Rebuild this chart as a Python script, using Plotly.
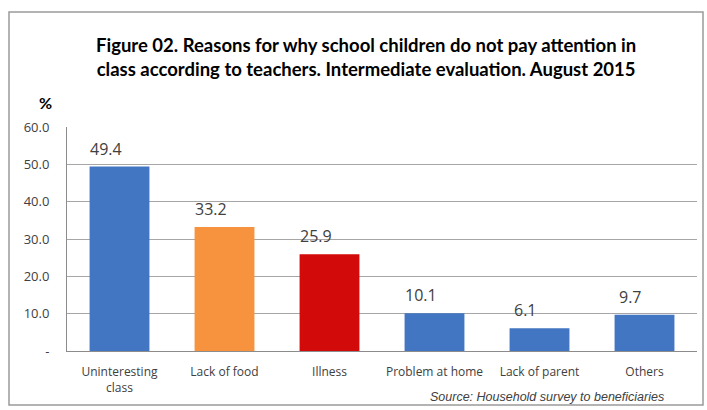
import plotly.graph_objects as go

# Survey results: share of teachers citing each reason (%)
categories = ["Uninteresting<br>class", "Lack of food", "Illness",
              "Problem at home", "Lack of parent", "Others"]
values = [49.4, 33.2, 25.9, 10.1, 6.1, 9.7]
bar_colors = ["#4275C2", "#F7923F", "#D20A0A", "#4275C2", "#4275C2", "#4275C2"]
y_tick_vals = [0, 10, 20, 30, 40, 50, 60]
y_tick_text = ["-", "10.0", "20.0", "30.0", "40.0", "50.0", "60.0"]

title_text = ("Figure 02. Reasons for why school children do not pay attention in<br>"
              "class according to teachers. Intermediate evaluation. August 2015")
source_text = "Source: Household survey to beneficiaries"

W, H = 707, 410
L, R, T, B = 67, 10, 127, 59
pw, ph = W - L - R, H - T - B


def px_x(x):
    return (x - L) / pw


def px_y(y):
    return (H - B - y) / ph


fig = go.Figure()
fig.add_trace(go.Bar(
    x=categories, y=values,
    marker=dict(color=bar_colors, line=dict(width=0)),
    width=0.57,
    hoverinfo="x+y",
))

# value labels above each bar, set slightly left of the bar centre
for c, v in zip(categories, values):
    fig.add_annotation(x=c, y=v, text=f"{v:.1f}", showarrow=False,
                       yanchor="middle", yshift=18, xshift=-14,
                       font=dict(family="Open Sans", size=16, color="#404040"))

# title, unit and source
fig.add_annotation(xref="paper", yref="paper", x=px_x(366), y=px_y(57),
                   text=f"<b>{title_text}</b>", showarrow=False, align="center",
                   xanchor="center", yanchor="middle",
                   font=dict(family="Lato", size=18.5, color="#000000"))
fig.add_annotation(xref="paper", yref="paper", x=px_x(45), y=px_y(103),
                   text="<b>%</b>", showarrow=False,
                   xanchor="center", yanchor="middle",
                   font=dict(family="Lato", size=16, color="#000000"))
fig.add_annotation(xref="paper", yref="paper", x=px_x(666), y=px_y(397),
                   text=f"<i>{source_text}</i>", showarrow=False,
                   xanchor="right", yanchor="middle",
                   font=dict(family="Liberation Sans", size=12.5, color="#404040"))

# outer frame around the whole figure
fig.add_shape(type="rect", xref="paper", yref="paper",
              x0=px_x(9), x1=px_x(703), y0=px_y(405), y1=px_y(12),
              line=dict(color="#9A9A9A", width=1.5), layer="below")

fig.update_layout(
    width=W, height=H,
    margin=dict(l=L, r=R, t=T, b=B),
    paper_bgcolor="white", plot_bgcolor="white",
    showlegend=False,
    xaxis=dict(showline=True, linecolor="#8C8C8C", linewidth=1,
               ticks="", ticklabelstandoff=10,
               tickfont=dict(family="Open Sans", size=12, color="#404040"),
               fixedrange=True),
    yaxis=dict(range=[0, 60], tickvals=y_tick_vals, ticktext=y_tick_text,
               showgrid=True, gridcolor="#A6A6A6", gridwidth=1,
               showline=True, linecolor="#8C8C8C", linewidth=1,
               zeroline=False, ticks="", ticklen=0, ticklabelstandoff=14,
               tickfont=dict(family="Open Sans", size=13, color="#404040"),
               fixedrange=True),
)

fig.write_html("out.html")
